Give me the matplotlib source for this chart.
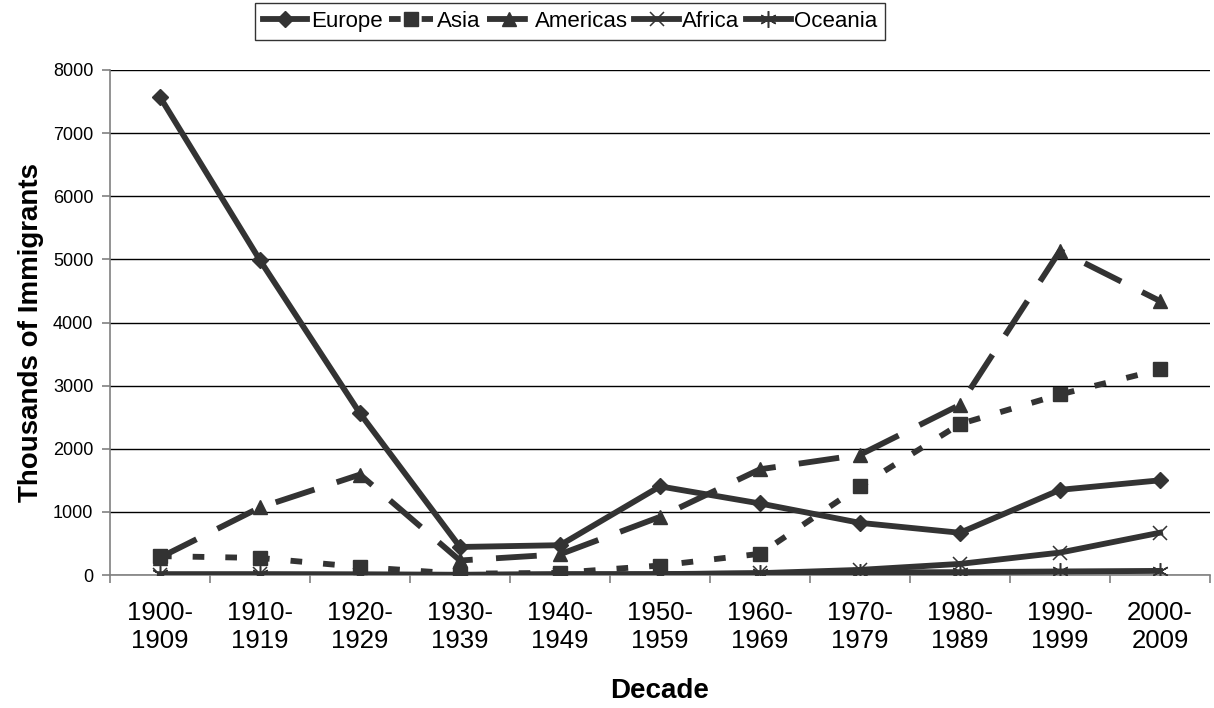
import numpy as np
import matplotlib.pyplot as plt
from matplotlib.ticker import FixedLocator

decades = ['1900-\n1909', '1910-\n1919', '1920-\n1929', '1930-\n1939', '1940-\n1949',
           '1950-\n1959', '1960-\n1969', '1970-\n1979', '1980-\n1989', '1990-\n1999',
           '2000-\n2009']
europe = [7572, 4985, 2560, 444, 472, 1404, 1133, 826, 669, 1349, 1500]
asia = [299, 270, 127, 20, 35, 150, 336, 1406, 2392, 2860, 3256]
americas = [277, 1070, 1591, 230, 328, 921, 1675, 1905, 2696, 5137, 4340]
africa = [7, 8, 6, 2, 7, 14, 29, 81, 176, 355, 670]
oceania = [12, 12, 9, 3, 14, 12, 26, 42, 45, 56, 65]

plt.rcParams['font.family'] = ['Liberation Sans', 'DejaVu Sans']
c = '#333333'
x = np.arange(len(decades))

fig = plt.figure(figsize=(12.14, 7.08), dpi=100)
ax = fig.add_axes([110/1214, 1 - 575/708, 1100/1214, 505/708])

lw = 4.2
ax.plot(x, europe, color=c, lw=lw, marker='D', ms=8, label='Europe', zorder=5)
ax.plot(x, asia, color=c, lw=lw, ls=(0, (2, 3.6)), marker='s', ms=10, label='Asia', zorder=4)
ax.plot(x, americas, color=c, lw=lw, ls=(0, (7, 4)), marker='^', ms=10, label='Americas', zorder=4)
ax.plot(x, africa, color=c, lw=lw, marker='x', ms=10, mew=1.1, label='Africa', zorder=3)
ax.plot(x, oceania, color=c, lw=lw, marker=(6, 2, 0), ms=12, mew=1.1, label='Oceania', zorder=3)

ax.set_xlim(-0.5, len(decades) - 0.5)
ax.set_ylim(0, 8000)
ax.set_yticks(np.arange(0, 8001, 1000))
ax.yaxis.grid(True, color='black', lw=1)
ax.set_axisbelow(True)

ax.set_xticks(x)
ax.set_xticklabels(decades, fontsize=18.5, linespacing=1.2)
ax.xaxis.set_minor_locator(FixedLocator(np.arange(-0.5, len(decades), 1)))
ax.tick_params(axis='x', which='major', length=0, pad=19)
ax.tick_params(axis='x', which='minor', length=6, color='#808080', width=1.2)
ax.tick_params(axis='y', length=6, color='#808080', width=1.2, labelsize=13, pad=6)

for s in ['top', 'right']:
    ax.spines[s].set_visible(False)
for s in ['left', 'bottom']:
    ax.spines[s].set_color('#808080')
    ax.spines[s].set_linewidth(1.2)

ax.set_ylabel('Thousands of Immigrants', fontsize=20, fontweight='bold', labelpad=6)
ax.yaxis.label.set_y(0.48)
ax.set_xlabel('Decade', fontsize=20, fontweight='bold', labelpad=18)

leg = fig.legend(loc='upper center', bbox_to_anchor=(570/1214, 1 - 3/708), ncol=5,
                 fontsize=16, frameon=True, fancybox=False, edgecolor='black',
                 handlelength=2.0, handletextpad=0.15, columnspacing=0.3,
                 borderpad=0.35, borderaxespad=0)
leg.get_frame().set_linewidth(1)

fig.savefig('out.png', dpi=100)
